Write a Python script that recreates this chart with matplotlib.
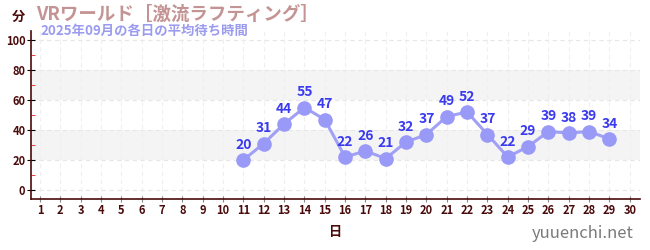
import matplotlib
matplotlib.use("Agg")
import matplotlib.pyplot as plt

plt.rcParams['font.family'] = ['Noto Sans CJK JP', 'DejaVu Sans']

# --- data ---
days = list(range(11, 30))
waits = [20, 31, 44, 55, 47, 22, 26, 21, 32, 37, 49, 52, 37, 22, 29, 39, 38, 39, 34]
x_ticks = list(range(1, 31))
y_ticks = [0, 20, 40, 60, 80, 100]

title = "VRワールド［激流ラフティング］"
subtitle = "2025年09月の各日の平均待ち時間"

DARK = "#4a0a0a"

fig = plt.figure(figsize=(6.5, 2.5), dpi=100)
ax = fig.add_axes([31 / 650, 1 - 199 / 250, 609 / 650, 168 / 250])

ax.set_xlim(0.56, 30.5)
ax.set_ylim(-6, 106)

# background bands
for lo, hi in [(20, 40), (60, 80)]:
    ax.axhspan(lo, hi, color="#f4f4f4", zorder=0, lw=0)

# dashed grid
for y in range(0, 101, 20):
    ax.axhline(y, color="#e6e6e6", lw=0.8, ls=(0, (4, 3)), zorder=0.5)
for x in x_ticks:
    ax.axvline(x, color="#efefef", lw=0.8, ls=(0, (4, 3)), zorder=0.5)

# line + markers
ax.plot(days, waits, color="#a0a0f6", lw=2.2, zorder=2)
ax.plot(days, waits, "o", color="#9999f8", ms=9.5, zorder=3)
for d, v in zip(days, waits):
    ax.annotate(str(v), (d, v), xytext=(0, 6), textcoords="offset points",
                ha="center", va="bottom", color="#3a3af0", fontsize=10,
                fontweight="bold", zorder=4)

# spines
for s in ["top", "right"]:
    ax.spines[s].set_visible(False)
ax.spines["left"].set_color(DARK)
ax.spines["bottom"].set_color(DARK)
ax.spines["left"].set_linewidth(1.2)
ax.spines["bottom"].set_linewidth(1.2)

ax.set_xticks(x_ticks)
ax.set_xticklabels([str(x) for x in x_ticks])
ax.set_yticks(y_ticks)
ax.set_yticks(range(10, 100, 20), minor=True)
ax.tick_params(axis="x", direction="inout", length=5, color="#888888",
               labelsize=8, labelcolor=DARK, pad=1)
ax.tick_params(axis="y", which="major", direction="inout", length=6, color="#000000",
               labelsize=8, labelcolor=DARK, pad=1)
ax.tick_params(axis="y", which="minor", direction="in", length=3, color="#dd2222")
for lbl in ax.get_xticklabels() + ax.get_yticklabels():
    lbl.set_fontweight("bold")

ax.set_xlabel("日", color=DARK, fontsize=9.5, fontweight="bold", labelpad=6)

fig.text(12 / 650, 1 - 17 / 250, "分", color=DARK, fontsize=9.5, fontweight="bold",
         ha="left", va="center")
fig.text(36 / 650, 1 - 14 / 250, title, color="#c49494", fontsize=13.3,
         fontweight="bold", ha="left", va="center")
fig.text(40 / 650, 1 - 31 / 250, subtitle, color="#9b9bf0", fontsize=9.6,
         fontweight="bold", ha="left", va="center")
fig.text(634 / 650, 1 - 234 / 250, "yuuenchi.net", color="#7a7a7a", fontsize=12,
         ha="right", va="center")

fig.savefig("out.png", dpi=100)
